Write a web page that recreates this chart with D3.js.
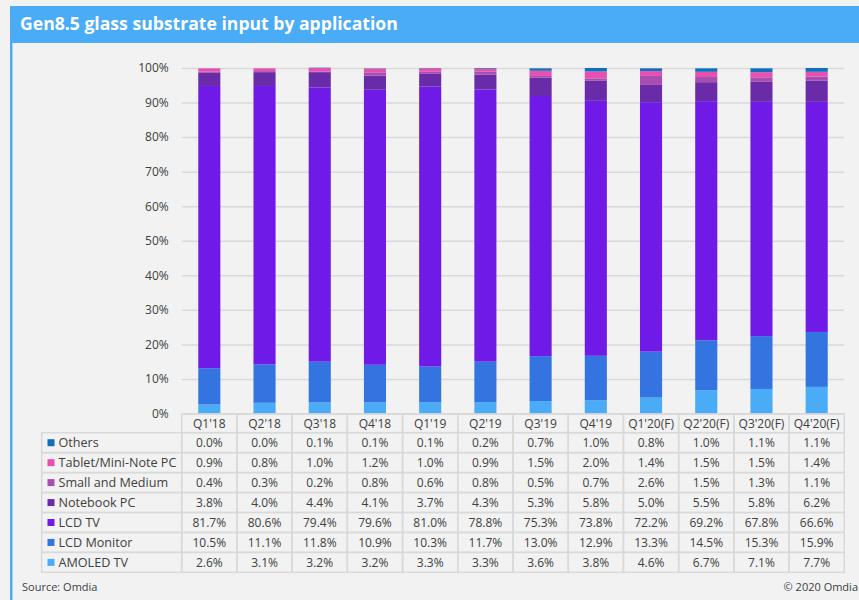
<!DOCTYPE html>
<html><head><meta charset="utf-8">
<script src="https://cdn.jsdelivr.net/npm/d3@7"></script>
<style>
html,body{margin:0;padding:0;background:#f2f2f2;}
svg{display:block;font-family:"Open Sans",sans-serif;}
</style></head>
<body>
<svg id="chart" width="859" height="600"></svg>
<script>
const categories = ["Q1'18","Q2'18","Q3'18","Q4'18","Q1'19","Q2'19","Q3'19","Q4'19","Q1'20(F)","Q2'20(F)","Q3'20(F)","Q4'20(F)"];
// series listed from bottom of stack to top
const seriesNames = ["AMOLED TV","LCD Monitor","LCD TV","Notebook PC","Small and Medium","Tablet/Mini-Note PC","Others"];
const amoledTV     = [2.6,3.1,3.2,3.2,3.3,3.3,3.6,3.8,4.6,6.7,7.1,7.7];
const lcdMonitor   = [10.5,11.1,11.8,10.9,10.3,11.7,13.0,12.9,13.3,14.5,15.3,15.9];
const lcdTV        = [81.7,80.6,79.4,79.6,81.0,78.8,75.3,73.8,72.2,69.2,67.8,66.6];
const notebookPC   = [3.8,4.0,4.4,4.1,3.7,4.3,5.3,5.8,5.0,5.5,5.8,6.2];
const smallMedium  = [0.4,0.3,0.2,0.8,0.6,0.8,0.5,0.7,2.6,1.5,1.3,1.1];
const tabletPC     = [0.9,0.8,1.0,1.2,1.0,0.9,1.5,2.0,1.4,1.5,1.5,1.4];
const others       = [0.0,0.0,0.1,0.1,0.1,0.2,0.7,1.0,0.8,1.0,1.1,1.1];
const yTicks = [0,10,20,30,40,50,60,70,80,90,100];
const colors = ["#4aabf7","#3474e0","#701ae8","#6a2ba8","#a64fae","#e850b0","#0f6fba"];

const seriesValues = [amoledTV,lcdMonitor,lcdTV,notebookPC,smallMedium,tabletPC,others];
const rows = categories.map((c,i)=>{const r={cat:c}; seriesNames.forEach((s,j)=>r[s]=seriesValues[j][i]); return r;});

const svg = d3.select("#chart");
// title bar
svg.append("rect").attr("x",10).attr("y",6).attr("width",849).attr("height",37).attr("fill","#4aabf7");
svg.append("rect").attr("x",10).attr("y",43).attr("width",2.5).attr("height",557).attr("fill","#4aabf7");
svg.append("text").attr("x",20).attr("y",30).attr("fill","#fff").attr("font-size",17.6).attr("font-weight","bold")
  .text("Gen8.5 glass substrate input by application");

const x0 = 181.7, x1 = 844.3, yTop = 68, yBot = 413.5;
const x = d3.scaleBand().domain(categories).range([x0,x1]).padding(0);
const y = d3.scaleLinear().domain([0,100]).range([yBot,yTop]);

// gridlines
const gAxis = svg.append("g").attr("transform",`translate(${x0},0)`)
  .call(d3.axisLeft(y).tickValues(yTicks).tickFormat(d=>d+"%").tickSize(-(x1-x0)).tickPadding(13));
gAxis.select(".domain").remove();
gAxis.selectAll(".tick line").attr("stroke","#d9d9d9").attr("stroke-width",1.5);
gAxis.selectAll(".tick text").attr("font-size",12).attr("fill","#404040").attr("font-family","Open Sans, sans-serif");

const stack = d3.stack().keys(seriesNames)(rows);
const bw = x.bandwidth()*0.4;
svg.append("g").selectAll("g").data(stack).join("g").attr("fill",(d,i)=>colors[i])
  .selectAll("rect").data(d=>d).join("rect")
  .attr("x",d=>x(d.data.cat)+(x.bandwidth()-bw)/2)
  .attr("width",bw)
  .attr("y",d=>y(d[1]))
  .attr("height",d=>Math.max(0,y(d[0])-y(d[1])));

// data table
const tLeft = 41.7, headTop = 414, headH = 18.7, rowH = 19.95;
const tableOrder = seriesNames.slice().reverse();
const tableVals = seriesValues.slice().reverse();
const tableColors = colors.slice().reverse();
const tg = svg.append("g");
const lineC = "#d9d9d9";
// header row cells
categories.forEach(c=>{
  tg.append("rect").attr("x",x(c)).attr("y",headTop).attr("width",x.bandwidth()).attr("height",headH)
    .attr("fill","none").attr("stroke",lineC).attr("stroke-width",1.5);
  tg.append("text").attr("x",x(c)+x.bandwidth()/2).attr("y",headTop+14).attr("text-anchor","middle")
    .attr("font-size",12).attr("fill","#404040").text(c);
});
tableOrder.forEach((s,i)=>{
  const ry = headTop+headH+i*rowH;
  tg.append("rect").attr("x",tLeft).attr("y",ry).attr("width",x0-tLeft).attr("height",rowH)
    .attr("fill","none").attr("stroke",lineC).attr("stroke-width",1.5);
  tg.append("rect").attr("x",47.5).attr("y",ry+6.5).attr("width",7).attr("height",7).attr("fill",tableColors[i]);
  tg.append("text").attr("x",58.5).attr("y",ry+14.5).attr("font-size",12.6).attr("fill","#404040").text(s);
  categories.forEach((c,k)=>{
    tg.append("rect").attr("x",x(c)).attr("y",ry).attr("width",x.bandwidth()).attr("height",rowH)
      .attr("fill","none").attr("stroke",lineC).attr("stroke-width",1.5);
    tg.append("text").attr("x",x(c)+x.bandwidth()/2).attr("y",ry+14.5).attr("text-anchor","middle")
      .attr("font-size",12).attr("fill","#404040").text(tableVals[i][k].toFixed(1)+"%");
  });
});

svg.append("text").attr("x",22).attr("y",591).attr("font-size",11).attr("fill","#404040").text("Source: Omdia");
svg.append("text").attr("x",858).attr("y",591).attr("text-anchor","end").attr("font-size",11).attr("fill","#404040").text("© 2020 Omdia");
</script>
</body></html>
